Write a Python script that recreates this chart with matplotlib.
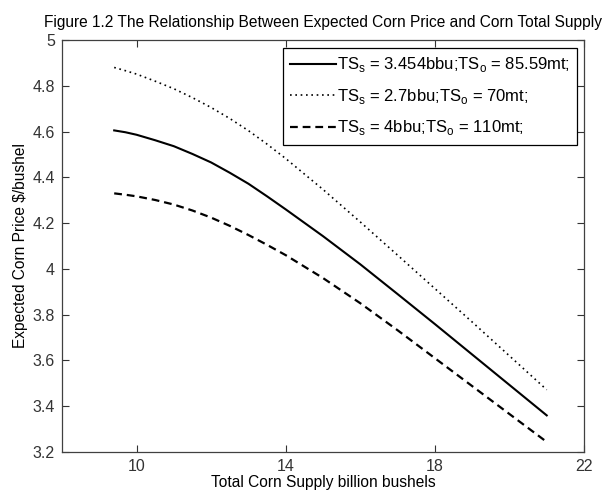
import matplotlib
matplotlib.use('Agg')
import matplotlib.pyplot as plt

plt.rcParams['font.family'] = ['Liberation Sans', 'DejaVu Sans']
plt.rcParams['mathtext.fontset'] = 'custom'
plt.rcParams['mathtext.rm'] = 'Liberation Sans'

supply = [9.4, 9.7, 10, 10.5, 11, 11.5, 12, 12.5, 13, 13.5, 14, 15, 16, 17, 18, 19, 20, 21]
price_base = [4.605, 4.597, 4.586, 4.562, 4.536, 4.502, 4.465, 4.42, 4.372, 4.317, 4.26,
              4.143, 4.02, 3.89, 3.759, 3.626, 3.493, 3.36]
price_low = [4.88, 4.866, 4.851, 4.82, 4.787, 4.748, 4.705, 4.657, 4.604, 4.545, 4.482,
             4.347, 4.205, 4.06, 3.914, 3.768, 3.62, 3.472]
price_high = [4.33, 4.324, 4.317, 4.301, 4.281, 4.255, 4.224, 4.188, 4.148, 4.105, 4.06,
              3.96, 3.85, 3.732, 3.61, 3.488, 3.366, 3.244]

labels = [r'TS$_\mathregular{s}$ = 3.454bbu;TS$_\mathregular{o}$ = 85.59mt;',
          r'TS$_\mathregular{s}$ = 2.7bbu;TS$_\mathregular{o}$ = 70mt;',
          r'TS$_\mathregular{s}$ = 4bbu;TS$_\mathregular{o}$ = 110mt;']

x_ticks = [10, 14, 18, 22]
y_ticks = [3.2, 3.4, 3.6, 3.8, 4.0, 4.2, 4.4, 4.6, 4.8, 5.0]
y_tick_labels = ['3.2', '3.4', '3.6', '3.8', '4', '4.2', '4.4', '4.6', '4.8', '5']

fig = plt.figure(figsize=(6.03, 4.95), dpi=100)
ax = fig.add_axes([62 / 603, 1 - 452 / 495, 522 / 603, 412 / 495])

ax.plot(supply, price_base, color='black', lw=1.5, ls='-', label=labels[0])
ax.plot(supply, price_low, color='black', lw=1.2, ls=(0, (1, 2.2)), label=labels[1])
ax.plot(supply, price_high, color='black', lw=1.6, ls=(0, (3.5, 2.2)), label=labels[2])

ax.set_xlim(8, 22)
ax.set_ylim(3.2, 5)
ax.set_xticks(x_ticks)
ax.set_xticklabels([str(t) for t in x_ticks])
ax.set_yticks(y_ticks)
ax.set_yticklabels(y_tick_labels)
ax.tick_params(direction='in', top=True, right=True, length=5, width=0.8,
               labelsize=11.5, colors='#333333', pad=5)
for s in ax.spines.values():
    s.set_color('#404040')
    s.set_linewidth(0.9)

ax.set_xlabel('Total Corn Supply billion bushels', fontsize=11.2, labelpad=1)
ax.set_ylabel('Expected Corn Price $/bushel', fontsize=11.2, labelpad=3)
ax.set_title('Figure 1.2 The Relationship Between Expected Corn Price and Corn Total Supply',
             fontsize=11.2, pad=9)

leg = ax.legend(loc='upper right', bbox_to_anchor=(0.9866, 0.9806), borderaxespad=0,
                fontsize=12, handlelength=2.75, labelspacing=0.75, handletextpad=0.05,
                fancybox=False, framealpha=1, edgecolor='black', borderpad=0.45)
leg.get_frame().set_linewidth(0.9)

plt.savefig('out.png', dpi=100)
